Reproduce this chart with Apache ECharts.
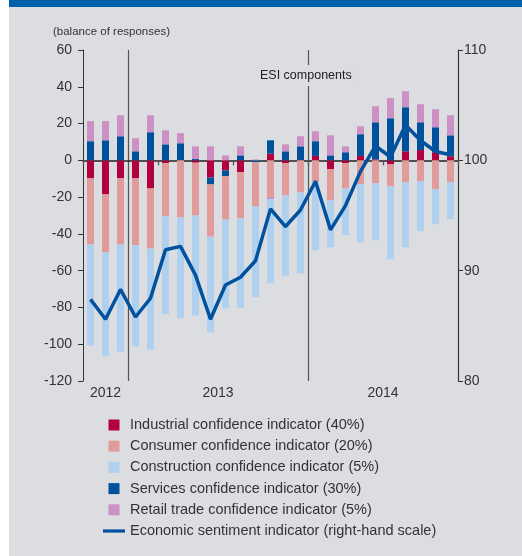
<!DOCTYPE html>
<html>
<head>
<meta charset="utf-8">
<script src="https://cdn.jsdelivr.net/npm/echarts@6/dist/echarts.min.js"></script>
<style>
html,body{margin:0;padding:0;background:#ffffff;}
#chart{width:522px;height:556px;}
</style>
</head>
<body>
<div id="chart"></div>
<script>
// ---- Data ----
var months = ['Oct 2012','Nov 2012','Dec 2012',
  'Jan 2013','Feb 2013','Mar 2013','Apr 2013','May 2013','Jun 2013','Jul 2013','Aug 2013','Sep 2013','Oct 2013','Nov 2013','Dec 2013',
  'Jan 2014','Feb 2014','Mar 2014','Apr 2014','May 2014','Jun 2014','Jul 2014','Aug 2014','Sep 2014','Oct 2014'];
var industrial   = [-9.8,-18.5,-9.8,-9.8,-15.3,-1.5,0,-1.3,-9.3,-5.5,-6.5,0,3.6,-1.5,0,2.4,-4.9,-1.5,2.4,0.5,-2.2,4.9,5.6,4.4,2.2];
var services     = [10.4,10.9,13.1,4.9,15.3,8.7,9.3,0.7,-3.8,-3.1,2.7,-1.0,7.3,4.9,7.6,8.0,2.7,4.4,11.8,20.2,22.9,24.0,15.1,13.6,11.4];
var consumer     = [-36.0,-31.6,-36.0,-36.4,-32.7,-28.9,-31.1,-28.7,-28.4,-23.6,-25.1,-24.1,-20.0,-17.6,-17.5,-11.8,-16.9,-13.8,-13.1,-12.5,-12.0,-12.0,-11.3,-15.6,-12.0];
var retail       = [10.9,10.4,11.4,7.1,9.2,7.6,5.5,6.9,7.6,2.7,4.9,0.5,-1.1,3.8,5.5,5.4,10.9,3.2,4.3,8.7,10.9,8.7,9.8,9.8,10.9];
var construction = [-54.9,-56.5,-58.2,-55.1,-54.9,-53.3,-54.9,-54.4,-52.1,-48.3,-48.9,-49.4,-45.8,-44.0,-44.0,-37.1,-25.5,-25.4,-31.4,-31.0,-39.6,-35.3,-27.2,-19.1,-20.0];
var esi          = [87.4,85.6,88.3,85.8,87.5,91.9,92.2,89.6,85.6,88.7,89.4,90.9,95.6,94.0,95.5,98.1,93.7,95.9,99.0,101.3,100.3,103.2,101.8,100.8,100.5];
var years = ['2012','2013','2014'];

var names = {
  ind: 'Industrial confidence indicator (40%)',
  con: 'Consumer confidence indicator (20%)',
  cst: 'Construction confidence indicator (5%)',
  srv: 'Services confidence indicator (30%)',
  ret: 'Retail trade confidence indicator (5%)',
  esi: 'Economic sentiment indicator (right-hand scale)'
};
var colors = {ind:'#b3003c', con:'#e09b9b', cst:'#afd0ef', srv:'#00519c', ret:'#cc90c4', esi:'#00519e'};

// year label positions derived from the month list (centre of each year's group)
var yearPos = {};
years.forEach(function(y){
  var first = -1, count = 0;
  months.forEach(function(m, i){ if (m.slice(-4) === y) { if (first < 0) first = i; count++; } });
  yearPos[(first + count / 2).toFixed(1)] = y;
});
var yearStart = {};
months.forEach(function(m, i){ if (i > 0 && m.slice(-4) !== months[i-1].slice(-4)) yearStart[i] = true; });

var FONT = '"Liberation Sans", Arial, sans-serif';
var chart = echarts.init(document.getElementById('chart'), null, {renderer:'canvas'});

function barSeries(key, data) {
  return {
    name: names[key], type: 'bar', stack: 'esi', data: data,
    barWidth: 7, xAxisIndex: 0, yAxisIndex: 0,
    itemStyle: {color: colors[key]}, emphasis: {disabled: true}
  };
}

var sq = 'path://M0,0h10v10h-10z';
chart.setOption({
  animation: false,
  backgroundColor: '#dcdde0',
  textStyle: {fontFamily: FONT},
  graphic: [
    {type:'rect', left:0, top:0, shape:{width:9, height:556}, style:{fill:'#ffffff'}, silent:true},
    {type:'rect', left:9, top:0, shape:{width:513, height:7}, style:{fill:'#0062ad'}, silent:true}
  ],
  title: [
    {text:'(balance of responses)', left:53, top:26, padding:0,
     textStyle:{fontFamily:FONT, fontSize:11.5, fontWeight:'normal', color:'#333'}},
    {text:'ESI components', left:258, top:65, padding:[4,2], backgroundColor:'#dcdde0',
     textStyle:{fontFamily:FONT, fontSize:12.5, fontWeight:'normal', color:'#222'}}
  ],
  grid: {left:83, right:64, top:50, bottom:175, containLabel:false},
  legend: {
    orient:'vertical', left:103, top:417, padding:0, itemWidth:22, itemHeight:11, itemGap:5.2,
    selectedMode:false,
    textStyle:{fontFamily:FONT, fontSize:14.5, color:'#333', lineHeight:16},
    data: [
      {name:names.ind, icon:sq},
      {name:names.con, icon:sq},
      {name:names.cst, icon:sq},
      {name:names.srv, icon:sq},
      {name:names.ret, icon:sq},
      {name:names.esi, icon:'path://M0,0h22v3.2h-22z'}
    ]
  },
  xAxis: [
    {type:'category', data:months, position:'bottom', boundaryGap:true,
     axisLine:{show:true, onZero:true, onZeroAxisIndex:0, lineStyle:{color:'#222', width:1.5}},
     axisTick:{show:true, alignWithLabel:false, length:5, lineStyle:{color:'#555', width:1.3}},
     axisLabel:{show:false},
     splitLine:{show:true, interval:function(i){ return !!yearStart[i]; }, lineStyle:{color:'#555', width:1.2}}},
    {type:'value', min:0, max:months.length, interval:0.5, position:'bottom',
     axisLine:{show:false}, axisTick:{show:false}, splitLine:{show:false},
     axisLabel:{show:true, margin:5, fontFamily:FONT, fontSize:14, color:'#333',
       formatter:function(v){ return yearPos[v.toFixed(1)] || ''; }}}
  ],
  yAxis: [
    {type:'value', min:-120, max:60, interval:20, position:'left',
     axisLine:{show:true, onZero:false, lineStyle:{color:'#333', width:1}},
     axisTick:{show:true, length:5, lineStyle:{color:'#333'}},
     axisLabel:{margin:11, fontFamily:FONT, fontSize:14, color:'#333'},
     splitLine:{show:false}},
    {type:'value', min:80, max:110, interval:10, position:'right',
     axisLine:{show:true, onZero:false, lineStyle:{color:'#333', width:1}},
     axisTick:{show:true, length:5, lineStyle:{color:'#333'}},
     axisLabel:{margin:6, fontFamily:FONT, fontSize:14, color:'#333'},
     splitLine:{show:false}}
  ],
  series: [
    barSeries('ind', industrial),
    barSeries('srv', services),
    barSeries('con', consumer),
    barSeries('ret', retail),
    barSeries('cst', construction),
    {name:names.esi, type:'line', data:esi, xAxisIndex:0, yAxisIndex:1,
     symbol:'none', z:5, lineStyle:{color:colors.esi, width:3.5}, itemStyle:{color:colors.esi},
     emphasis:{disabled:true}}
  ]
});
</script>
</body>
</html>
